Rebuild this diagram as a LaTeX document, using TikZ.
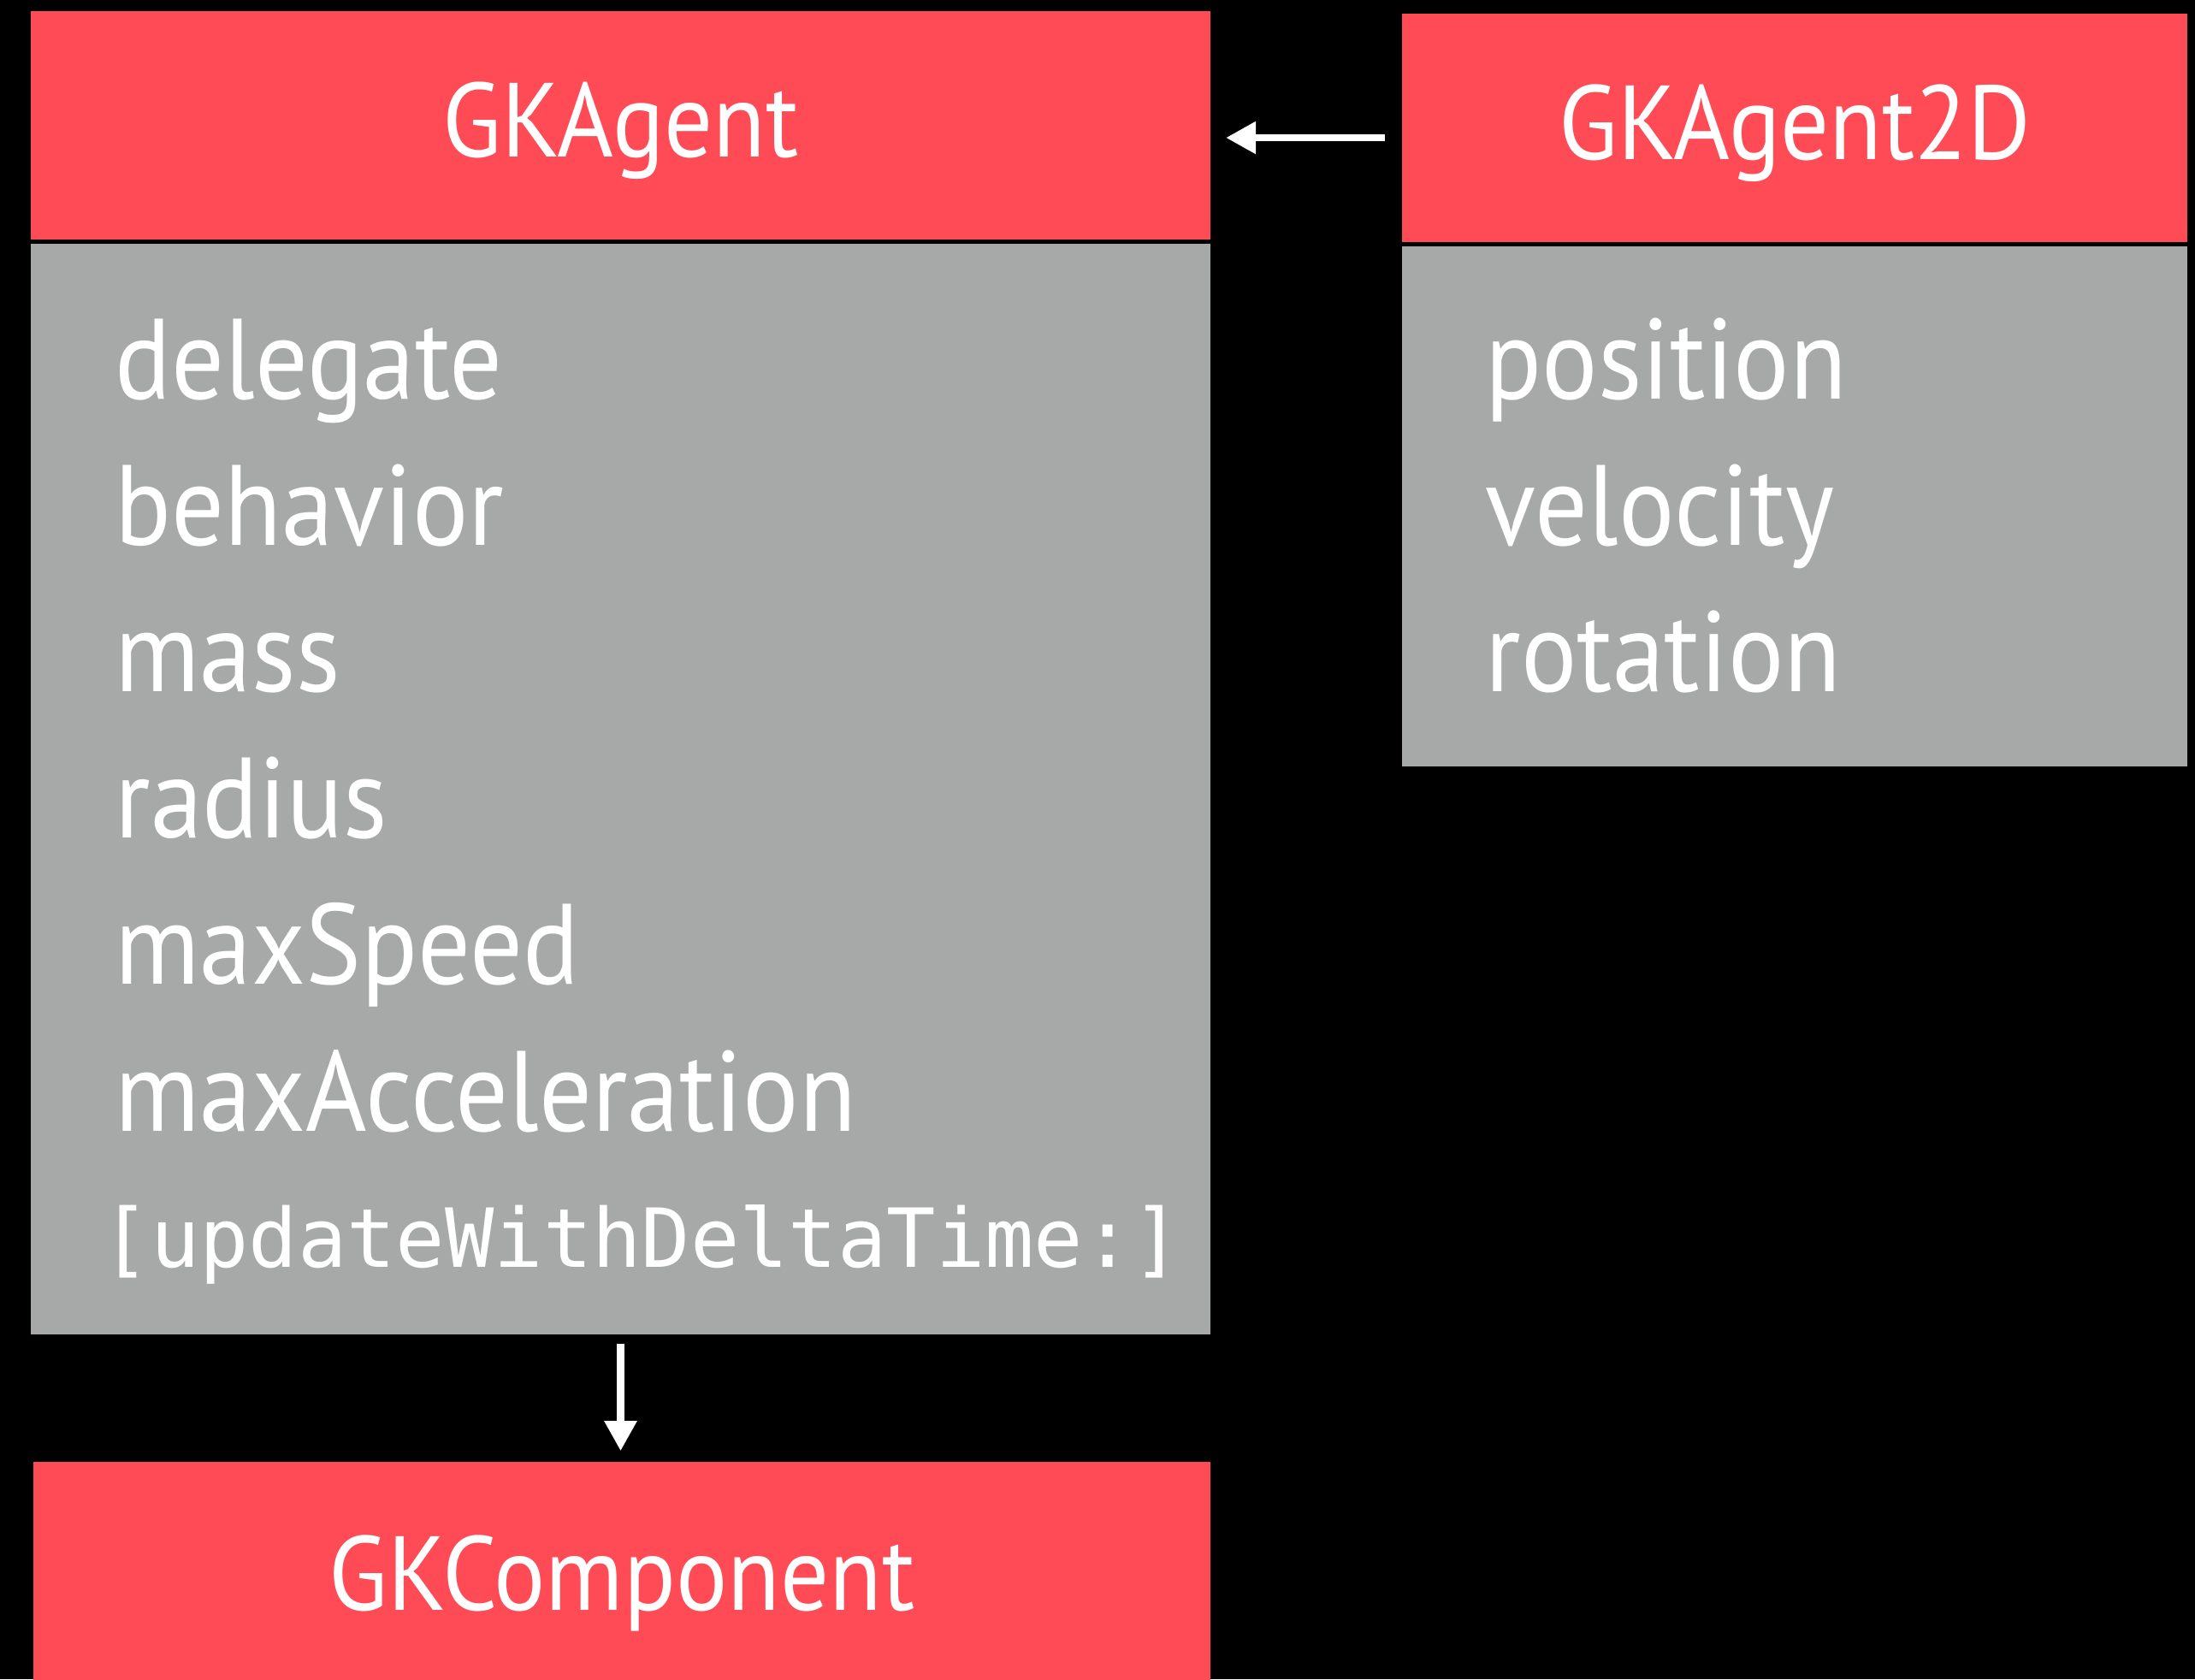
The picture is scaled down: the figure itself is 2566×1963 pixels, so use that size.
\documentclass[tikz,border=0pt]{standalone}
\usepackage{fontspec}
\setmainfont[FakeStretch=0.915]{PT Sans}
\setmonofont{DejaVu Sans Mono}
\usetikzlibrary{arrows.meta}
\definecolor{gkred}{RGB}{255,75,85}
\definecolor{gkgray}{RGB}{167,169,168}

\begin{document}
\begin{tikzpicture}[x=0.01cm, y=-0.01cm,
  head/.style={fill=gkred, text=white, inner sep=0pt, text height=0.73cm, text depth=0cm,
    font=\fontsize{35}{42}\selectfont},
  body/.style={fill=gkgray, inner sep=0pt},
  prop/.style={text=white, anchor=base west, inner sep=0pt, font=\fontsize{38}{46}\selectfont},
  link/.style={draw=white, line width=0.085cm, -{Triangle[length=0.35cm,width=0.36cm]}}]
\useasboundingbox (0,0) rectangle (2566,1963);
\fill[black] (0,0) rectangle (2566,1963);

% GKAgent class
\node[head, minimum width=13.79cm, minimum height=2.67cm] (agenthead) at (725.5,146.5) {GKAgent};
\node[body, minimum width=13.79cm, minimum height=12.75cm] (agentbody) at (725.5,922.5) {};
\foreach \name [count=\i] in {delegate,behavior,mass,radius,maxSpeed,maxAcceleration}
  \node[prop] (agentprop\i) at (134,{466+171.2*(\i-1)}) {\name};
\node[prop, font=\ttfamily\fontsize{27.1}{32}\selectfont] (agentupdate) at (118,1481) {[updateWithDeltaTime:]};

% GKAgent2D class
\node[head, minimum width=9.18cm, minimum height=2.67cm] (a2dhead) at (2098,149.5) {GKAgent2D};
\node[body, minimum width=9.18cm, minimum height=6.08cm] (a2dbody) at (2098,592) {};
\foreach \name [count=\i] in {position,velocity,rotation}
  \node[prop] (a2dprop\i) at (1736,{466+171.2*(\i-1)}) {\name};

% GKComponent class
\node[head, minimum width=13.76cm, minimum height=2.73cm] (comp) at (727,1845.5) {GKComponent};

% inheritance
\coordinate (a2dtail) at ([yshift=-0.115cm]a2dhead.west);
\draw[link, shorten <=0.19cm, shorten >=0.17cm] (a2dtail) -- (a2dtail -| agenthead.east);
\draw[link, shorten <=0.10cm, shorten >=0.12cm] (agentbody.south) -- (agentbody.south |- comp.north);
\end{tikzpicture}
\end{document}
